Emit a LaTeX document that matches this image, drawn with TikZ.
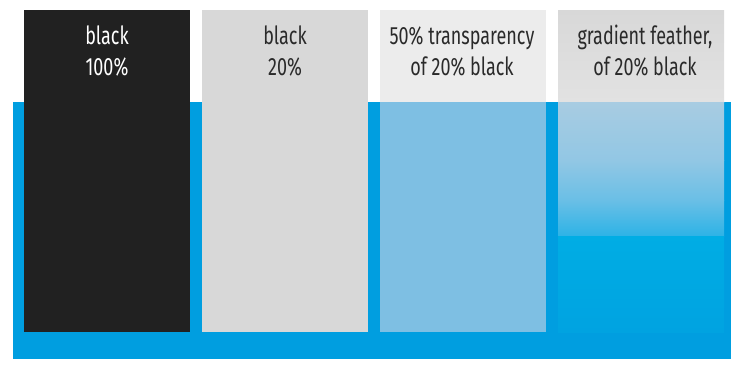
\documentclass[tikz,border=0pt]{standalone}
\usepackage{fontspec}
\newfontfamily\labfont[FakeStretch=0.72]{Fira Sans}
\definecolor{bgblue}{HTML}{009EE0}
\definecolor{colblack}{HTML}{212121}
\definecolor{colgray}{HTML}{D8D8D8}
\definecolor{coltransA}{HTML}{ECECEC}
\definecolor{coltransB}{HTML}{7EBFE3}
\definecolor{txtdark}{HTML}{2A2A2A}
\definecolor{gA}{HTML}{D8D8D8}
\definecolor{gB}{HTML}{E2E2E2}
\definecolor{gC}{HTML}{A8CCE2}
\definecolor{gD}{HTML}{92C7E4}
\definecolor{gE}{HTML}{6ABFE6}
\definecolor{gF}{HTML}{2DB3E6}
\definecolor{gG}{HTML}{00ADE4}
\definecolor{gH}{HTML}{00A3E1}
\begin{document}
\begin{tikzpicture}[x=1pt,y=-1pt,
  box/.style={draw=none, inner sep=0pt, outer sep=0pt, anchor=north west, minimum width=166pt},
  lab/.style={font=\labfont\fontsize{25}{30}\selectfont, inner sep=0pt, anchor=base, text=txtdark}]
\useasboundingbox (0,0) rectangle (742,370);
\node[box, fill=bgblue, minimum width=718pt, minimum height=257pt] (pool) at (13,102) {};
% column 1
\node[box, fill=colblack, minimum height=322pt] (c1) at (24,10) {};
% column 2
\node[box, fill=colgray, minimum height=322pt] (c2) at (202,10) {};
% column 3
\node[box, fill=coltransA, minimum height=92pt] (c3a) at (380,10) {};
\node[box, fill=coltransB, minimum height=230pt] (c3b) at (380,102) {};
% column 4 (gradient feather)
\node[box, top color=gA, bottom color=gB, minimum height=92pt] (c4a) at (558,10) {};
\node[box, top color=gC, bottom color=gD, minimum height=58pt] (c4b) at (558,102) {};
\node[box, top color=gD, bottom color=gE, minimum height=40pt] (c4c) at (558,160) {};
\node[box, top color=gE, bottom color=gF, minimum height=36pt] (c4d) at (558,200) {};
\node[box, top color=gG, bottom color=gH, minimum height=96pt] (c4e) at (558,236) {};
% labels
\node[lab, text=white] (t1a) at (107,44) {black};
\node[lab, text=white] (t1b) at (107,75) {100\%};
\node[lab] (t2a) at (285,44) {black};
\node[lab] (t2b) at (285,75) {20\%};
\node[lab] (t3a) at (462,44) {50\% transparency};
\node[lab] (t3b) at (462,75) {of 20\% black};
\node[lab] (t4a) at (645,44) {gradient feather,};
\node[lab] (t4b) at (645,75) {of 20\% black};
\end{tikzpicture}
\end{document}
